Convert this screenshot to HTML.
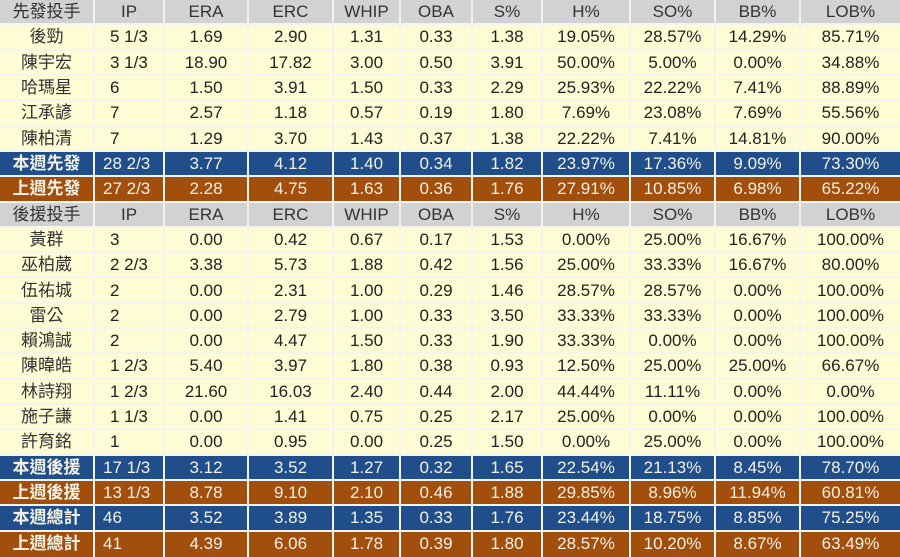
<!DOCTYPE html>
<html>
<head>
<meta charset="utf-8">
<style>
html,body{margin:0;padding:0;background:#fefcd4;}
body{width:900px;height:557px;overflow:hidden;position:relative;
font-family:"Liberation Sans","Noto Sans CJK TC","Noto Sans CJK SC",sans-serif;font-size:17px;color:#222;}
.r{position:absolute;left:0;width:900px;height:25.32px;display:flex;background:#fefcd4;box-sizing:border-box;border-bottom:2px solid #f4f4ee;}
.r div{box-sizing:border-box;height:100%;border-right:2px solid #f4f4ee;text-align:center;white-space:nowrap;line-height:24px;overflow:hidden;}
.r div:last-child{border-right:none;}
.r div:nth-child(1){width:95px;color:#333;}
.r div:nth-child(2){width:70px;text-align:left;padding-left:15px;}
.r div:nth-child(3){width:84px;}
.r div:nth-child(4){width:85px;}
.r div:nth-child(5){width:67px;}
.r div:nth-child(6){width:72px;}
.r div:nth-child(7){width:70px;}
.r div:nth-child(8){width:88px;}
.r div:nth-child(9){width:85px;}
.r div:nth-child(10){width:85px;}
.r div:nth-child(11){width:99px;}
.h{background:#d0d2d4;color:#333;}
.h div:nth-child(2){text-align:center;padding-left:0;}
.b{background:#1f4e8b;color:#f3f1e4;}
.o{background:#a24e0c;color:#f3f1e4;}
.b div:nth-child(1),.o div:nth-child(1){font-weight:bold;color:#f3f1e4;}
.b div:nth-child(2),.o div:nth-child(2){padding-left:8px;}
</style>
</head>
<body>
<div class="r h" style="top:0px"><div>先發投手</div><div>IP</div><div>ERA</div><div>ERC</div><div>WHIP</div><div>OBA</div><div>S%</div><div>H%</div><div>SO%</div><div>BB%</div><div>LOB%</div></div>
<div class="r" style="top:25.32px"><div>後勁</div><div>5 1/3</div><div>1.69</div><div>2.90</div><div>1.31</div><div>0.33</div><div>1.38</div><div>19.05%</div><div>28.57%</div><div>14.29%</div><div>85.71%</div></div>
<div class="r" style="top:50.64px"><div>陳宇宏</div><div>3 1/3</div><div>18.90</div><div>17.82</div><div>3.00</div><div>0.50</div><div>3.91</div><div>50.00%</div><div>5.00%</div><div>0.00%</div><div>34.88%</div></div>
<div class="r" style="top:75.95px"><div>哈瑪星</div><div>6</div><div>1.50</div><div>3.91</div><div>1.50</div><div>0.33</div><div>2.29</div><div>25.93%</div><div>22.22%</div><div>7.41%</div><div>88.89%</div></div>
<div class="r" style="top:101.27px"><div>江承諺</div><div>7</div><div>2.57</div><div>1.18</div><div>0.57</div><div>0.19</div><div>1.80</div><div>7.69%</div><div>23.08%</div><div>7.69%</div><div>55.56%</div></div>
<div class="r" style="top:126.59px"><div>陳柏清</div><div>7</div><div>1.29</div><div>3.70</div><div>1.43</div><div>0.37</div><div>1.38</div><div>22.22%</div><div>7.41%</div><div>14.81%</div><div>90.00%</div></div>
<div class="r b" style="top:151.91px"><div>本週先發</div><div>28 2/3</div><div>3.77</div><div>4.12</div><div>1.40</div><div>0.34</div><div>1.82</div><div>23.97%</div><div>17.36%</div><div>9.09%</div><div>73.30%</div></div>
<div class="r o" style="top:177.23px"><div>上週先發</div><div>27 2/3</div><div>2.28</div><div>4.75</div><div>1.63</div><div>0.36</div><div>1.76</div><div>27.91%</div><div>10.85%</div><div>6.98%</div><div>65.22%</div></div>
<div class="r h" style="top:202.55px"><div>後援投手</div><div>IP</div><div>ERA</div><div>ERC</div><div>WHIP</div><div>OBA</div><div>S%</div><div>H%</div><div>SO%</div><div>BB%</div><div>LOB%</div></div>
<div class="r" style="top:227.86px"><div>黃群</div><div>3</div><div>0.00</div><div>0.42</div><div>0.67</div><div>0.17</div><div>1.53</div><div>0.00%</div><div>25.00%</div><div>16.67%</div><div>100.00%</div></div>
<div class="r" style="top:253.18px"><div>巫柏葳</div><div>2 2/3</div><div>3.38</div><div>5.73</div><div>1.88</div><div>0.42</div><div>1.56</div><div>25.00%</div><div>33.33%</div><div>16.67%</div><div>80.00%</div></div>
<div class="r" style="top:278.50px"><div>伍祐城</div><div>2</div><div>0.00</div><div>2.31</div><div>1.00</div><div>0.29</div><div>1.46</div><div>28.57%</div><div>28.57%</div><div>0.00%</div><div>100.00%</div></div>
<div class="r" style="top:303.82px"><div>雷公</div><div>2</div><div>0.00</div><div>2.79</div><div>1.00</div><div>0.33</div><div>3.50</div><div>33.33%</div><div>33.33%</div><div>0.00%</div><div>100.00%</div></div>
<div class="r" style="top:329.14px"><div>賴鴻誠</div><div>2</div><div>0.00</div><div>4.47</div><div>1.50</div><div>0.33</div><div>1.90</div><div>33.33%</div><div>0.00%</div><div>0.00%</div><div>100.00%</div></div>
<div class="r" style="top:354.45px"><div>陳暐皓</div><div>1 2/3</div><div>5.40</div><div>3.97</div><div>1.80</div><div>0.38</div><div>0.93</div><div>12.50%</div><div>25.00%</div><div>25.00%</div><div>66.67%</div></div>
<div class="r" style="top:379.77px"><div>林詩翔</div><div>1 2/3</div><div>21.60</div><div>16.03</div><div>2.40</div><div>0.44</div><div>2.00</div><div>44.44%</div><div>11.11%</div><div>0.00%</div><div>0.00%</div></div>
<div class="r" style="top:405.09px"><div>施子謙</div><div>1 1/3</div><div>0.00</div><div>1.41</div><div>0.75</div><div>0.25</div><div>2.17</div><div>25.00%</div><div>0.00%</div><div>0.00%</div><div>100.00%</div></div>
<div class="r" style="top:430.41px"><div>許育銘</div><div>1</div><div>0.00</div><div>0.95</div><div>0.00</div><div>0.25</div><div>1.50</div><div>0.00%</div><div>25.00%</div><div>0.00%</div><div>100.00%</div></div>
<div class="r b" style="top:455.73px"><div>本週後援</div><div>17 1/3</div><div>3.12</div><div>3.52</div><div>1.27</div><div>0.32</div><div>1.65</div><div>22.54%</div><div>21.13%</div><div>8.45%</div><div>78.70%</div></div>
<div class="r o" style="top:481.05px"><div>上週後援</div><div>13 1/3</div><div>8.78</div><div>9.10</div><div>2.10</div><div>0.46</div><div>1.88</div><div>29.85%</div><div>8.96%</div><div>11.94%</div><div>60.81%</div></div>
<div class="r b" style="top:506.36px"><div>本週總計</div><div>46</div><div>3.52</div><div>3.89</div><div>1.35</div><div>0.33</div><div>1.76</div><div>23.44%</div><div>18.75%</div><div>8.85%</div><div>75.25%</div></div>
<div class="r o" style="top:531.68px;border-bottom:none"><div>上週總計</div><div>41</div><div>4.39</div><div>6.06</div><div>1.78</div><div>0.39</div><div>1.80</div><div>28.57%</div><div>10.20%</div><div>8.67%</div><div>63.49%</div></div>
</body>
</html>
